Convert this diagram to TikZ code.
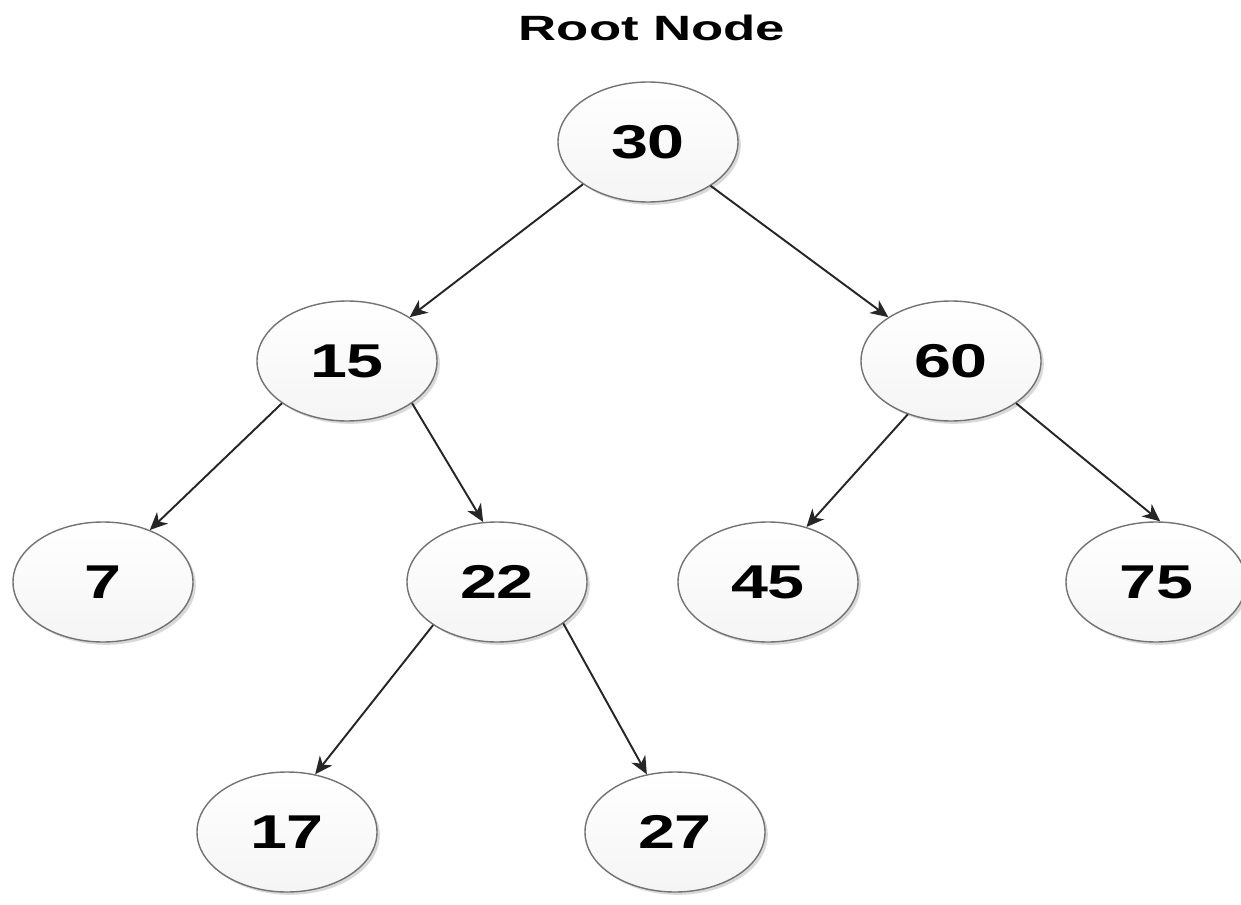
\documentclass[tikz,border=0pt]{standalone}
\usepackage{fontspec}
\newfontfamily\treefont{Liberation Sans}[FakeStretch=1.4]
\newfontfamily\titlefont{Liberation Sans}[FakeStretch=1.5]
\usetikzlibrary{arrows.meta,shadows,shapes.geometric}

\tikzset{
  keynode/.style={ellipse,draw=black!55,line width=0.8pt,
    minimum width=3.6cm,minimum height=2.4cm,inner sep=0pt,
    top color=white,bottom color=black!4,
    drop shadow={shadow xshift=1.6pt,shadow yshift=-1.6pt,opacity=0.15,fill=black},
    font=\treefont\bfseries\fontsize{27}{32}\selectfont},
  link/.style={->,line width=1.1pt,draw=black!85}
}

\begin{document}
\begin{tikzpicture}[x=1cm,y=1cm,>={Stealth[length=10pt,width=9pt,inset=3pt]}]
\useasboundingbox (0,0) rectangle (24.82,-18.1);

% Title
\node[font=\titlefont\bfseries\fontsize{20}{24}\selectfont] (title) at (13.04,-0.56) {Root Node};

% Keys, level by level
\node[keynode] (n30) at (12.96,-2.84) {30};

\node[keynode] (n15) at (6.94,-7.22) {15};
\node[keynode] (n60) at (19.02,-7.22) {60};

\node[keynode] (n7)  at (2.06,-11.64) {7};
\node[keynode] (n22) at (9.94,-11.64) {22};
\node[keynode] (n45) at (15.36,-11.64) {45};
\node[keynode] (n75) at (23.12,-11.64) {75};

\node[keynode] (n17) at (5.74,-16.64) {17};
\node[keynode] (n27) at (13.5,-16.64) {27};

% Child links
\draw[link] (n30.213) -- (n15.35);
\draw[link] (n30.325) -- (n60.145);

\draw[link] (n15.213) -- (n7.48);
\draw[link] (n15.327) -- (n22.103);

\draw[link] (n60.231) -- (n45.55);
\draw[link] (n60.327) -- (n75.86);

\draw[link] (n22.214) -- (n17.64);
\draw[link] (n22.328) -- (n27.116);

\end{tikzpicture}
\end{document}
